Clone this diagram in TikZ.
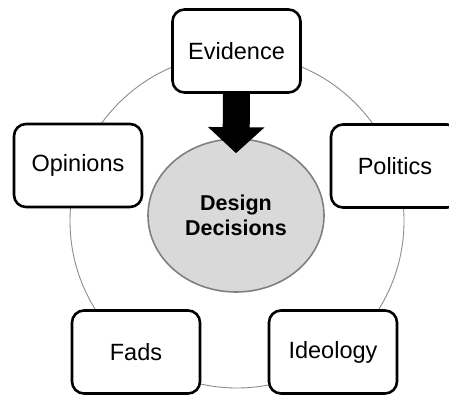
\documentclass[tikz,border=0pt]{standalone}
\usepackage{fontspec}
\setmainfont{Liberation Sans}
\usetikzlibrary{shapes.geometric, arrows.meta}

\begin{document}
\begin{tikzpicture}[
        x=1pt, y=-1pt,
        factor/.style={rectangle, rounded corners=12pt, draw=black, line width=2.6pt, fill=white, minimum width=128pt, minimum height=83pt, font=\fontsize{23.5}{28}\selectfont},
        core/.style={ellipse, draw=black!50, line width=1.6pt, fill=black!15, minimum width=176pt, minimum height=153pt, align=center, font=\fontsize{21.5}{25}\selectfont\bfseries},
        ring/.style={draw=black!45, line width=0.9pt},
        push/.style={-{Triangle[width=55pt, length=26pt]}, line width=27pt, black}
    ]
    \useasboundingbox (0,0) rectangle (449,394);
    \clip (0,0) rectangle (449,394);

    \draw[ring] (237,221) circle[radius=167pt];

    \node[core] (dd) at (236,215.5) {Design\\Decisions};

    \node[factor] (ev) at (236.5,51) {Evidence};
    \node[factor] (op) at (78,165.5) {Opinions};
    \node[factor] (po) at (395,166) {Politics};
    \node[factor] (fa) at (136,352) {Fads};
    \node[factor] (id) at (333,352) {Ideology};

    \draw[push] (ev.south) -- ([yshift=-15pt]dd.north);

\end{tikzpicture}
\end{document}
